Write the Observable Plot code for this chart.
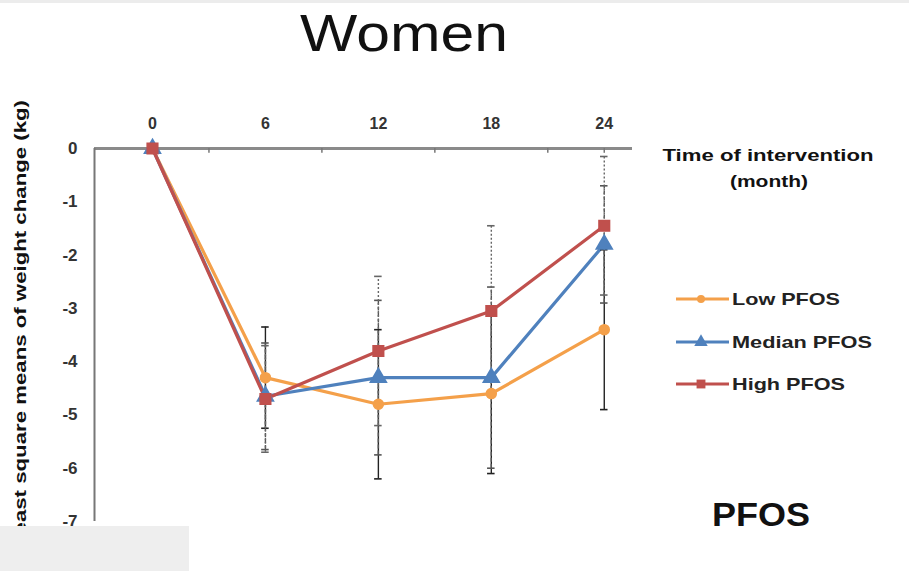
<!DOCTYPE html>
<html>
<head>
<meta charset="utf-8">
<script src="https://cdn.jsdelivr.net/npm/d3@7"></script>
<script src="https://cdn.jsdelivr.net/npm/@observablehq/plot@0.6"></script>
<style>
  html, body { margin: 0; padding: 0; background: #fff; }
  #wrap { position: relative; width: 909px; height: 571px; overflow: hidden; }
  #topstrip { position: absolute; left: 0; top: 0; width: 909px; height: 3px; background: #ececec; }
  #box { position: absolute; left: 0; top: 526px; width: 189px; height: 45px; background: #eeeeee; }
</style>
</head>
<body>
<div id="wrap"><div id="chart"></div><div id="topstrip"></div><div id="box"></div></div>
<script>
// ---- data ----
const months = [0, 6, 12, 18, 24];
const minorTicks = [3, 9, 15, 21, 24];
const yTicks = [0, -1, -2, -3, -4, -5, -6, -7];
const seriesNames = ["Low PFOS", "Median PFOS", "High PFOS"];
const lowPFOS    = [0, -4.3, -4.8, -4.6, -3.4];
const medianPFOS = [0, -4.65, -4.3, -4.3, -1.8];
const highPFOS   = [0, -4.7, -3.8, -3.05, -1.45];
const lowErr     = [0, 0.95, 1.4, 1.5, 1.5];
const medianErr  = [0, 1.0, 1.45, 1.7, 1.1];
const highErr    = [0, 1.0, 1.4, 1.6, 1.3];
const colors = ["#F4A04A", "#4F81BD", "#C0504D"];
const symbols = ["circle", "triangle", "square"];
const errDash = [null, "4,2", "2,2"];
const errColor = ["#222", "#555", "#666"];

const values = [lowPFOS, medianPFOS, highPFOS];
const errs = [lowErr, medianErr, highErr];
const rows = [];
seriesNames.forEach((s, i) => months.forEach((m, j) => rows.push({
  series: s, idx: i, month: m, value: values[i][j], err: errs[i][j]
})));
const errRows = rows.filter(d => d.err > 0);

const font = "'Liberation Sans', Arial, sans-serif";
const xDomain = [-3.08, 25.5];

const marks = [
  Plot.ruleY([0], {x1: xDomain[0], x2: xDomain[1], stroke: "#8a8a8a", strokeWidth: 3}),
  Plot.ruleX(minorTicks, {x: d => d, y1: 0, y2: -0.09, stroke: "#777", strokeWidth: 1.5}),
  Plot.ruleX([xDomain[0]], {y1: 0, y2: -7, stroke: "#777", strokeWidth: 2}),
  Plot.axisY({ticks: yTicks, tickSize: 6, tickPadding: 11, fontSize: 17, fontWeight: "bold",
    fill: "#333", stroke: null, tickFormat: d => d === 0 ? "0" : String(d).replace("−", "-"),
    label: null}),
  Plot.axisX({anchor: "top", ticks: months, tickSize: 0, tickPadding: 20, fontSize: 16,
    fontWeight: "bold", fill: "#333", label: null}),
];
seriesNames.forEach((s, i) => {
  const data = rows.filter(d => d.idx === i);
  marks.push(Plot.line(data, {x: "month", y: "value", stroke: colors[i], strokeWidth: 3.2}));
});
seriesNames.forEach((s, i) => {
  const data = errRows.filter(d => d.idx === i);
  marks.push(Plot.ruleX(data, {x: "month", y1: d => d.value - d.err, y2: d => d.value + d.err,
    stroke: errColor[i], strokeWidth: 1.4, strokeDasharray: errDash[i]}));
  marks.push(Plot.ruleY(data, {y: d => d.value + d.err, x1: d => d.month - 0.2, x2: d => d.month + 0.2,
    stroke: errColor[i], strokeWidth: 1.6}));
  marks.push(Plot.ruleY(data, {y: d => d.value - d.err, x1: d => d.month - 0.2, x2: d => d.month + 0.2,
    stroke: errColor[i], strokeWidth: 1.6}));
});
seriesNames.forEach((s, i) => {
  const data = rows.filter(d => d.idx === i);
  marks.push(Plot.dot(data, {x: "month", y: "value", symbol: () => symbols[i], fill: colors[i],
    stroke: colors[i], r: i === 0 ? 5 : 6}));
});

const chart = Plot.plot({
  width: 909, height: 571,
  marginLeft: 94, marginRight: 277, marginTop: 148, marginBottom: 50,
  x: {domain: xDomain, axis: null},
  y: {domain: [-7, 0], axis: null},
  symbol: {domain: symbols, range: symbols},
  style: {fontFamily: font, background: "transparent", overflow: "visible"},
  marks
});
document.getElementById("chart").appendChild(chart);

// ---- annotations: title, legend, labels ----
const svg = d3.select(chart);
const g = svg.append("g").attr("font-family", font).attr("text-anchor", "start");
function txt(s, x, y, size, weight, len, anchor, fam) {
  const t = g.append("text").text(s).attr("x", x).attr("y", y)
    .attr("font-size", size).attr("font-weight", weight)
    .attr("text-anchor", anchor || "middle").attr("fill", "#111");
  if (fam) t.attr("font-family", fam);
  if (len) t.attr("textLength", len).attr("lengthAdjust", "spacingAndGlyphs");
  return t;
}
txt("Women", 404, 51, 52, 400, 208, "middle");
txt("Time of intervention", 768, 161, 16, "bold", 211);
txt("(month)", 769, 187, 16, "bold", 78);
txt("PFOS", 761, 526, 34, "bold", 98);

// y label (rotated)
g.append("text").text("Least square means of weight change (kg)")
  .attr("transform", "translate(26,324) rotate(-90)")
  .attr("text-anchor", "middle")
  .attr("font-size", 16).attr("font-weight", "bold").attr("fill", "#111")
  .attr("textLength", 448).attr("lengthAdjust", "spacingAndGlyphs");

// legend
const legendY = [299, 342, 384];
const legendLen = [108, 140, 113];
const symGen = {circle: d3.symbolCircle, triangle: d3.symbolTriangle, square: d3.symbolSquare};
seriesNames.forEach((s, i) => {
  const y = legendY[i];
  g.append("line").attr("x1", 676).attr("x2", 729).attr("y1", y).attr("y2", y)
    .attr("stroke", colors[i]).attr("stroke-width", 3);
  const area = i === 0 ? Math.PI * 16 : Math.PI * 25;
  g.append("path").attr("d", d3.symbol(symGen[symbols[i]], area)())
    .attr("transform", `translate(701,${y})`).attr("fill", colors[i]);
  txt(s, 732, y + 6, 17, "bold", legendLen[i], "start").attr("fill", "#222");
});
</script>
</body>
</html>
